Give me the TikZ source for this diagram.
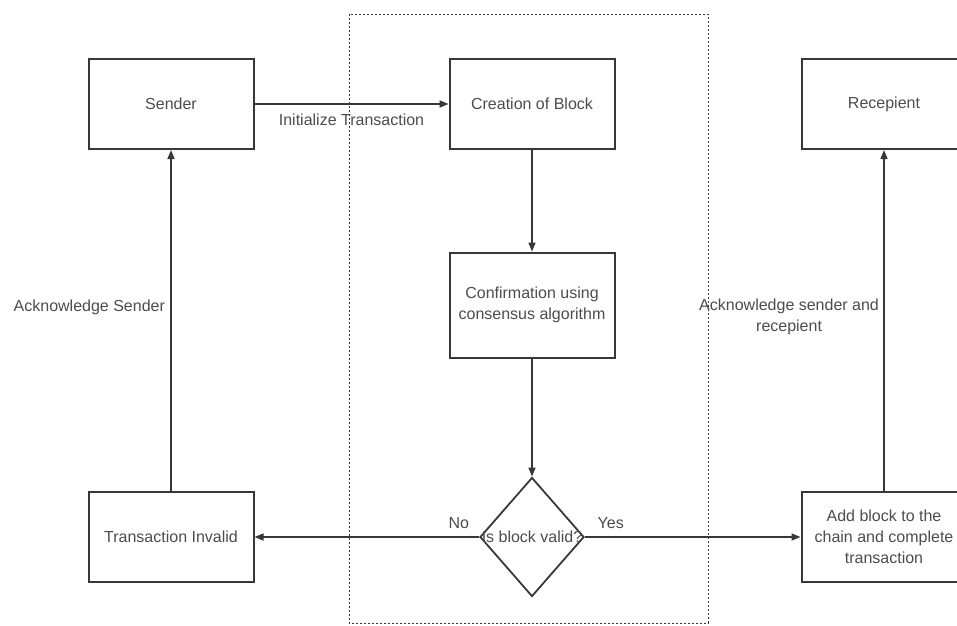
\documentclass[tikz,border=0pt]{standalone}
\usepackage{fontspec}
\setmainfont{Liberation Sans}
\usepackage{tikz}
\usetikzlibrary{arrows.meta, shapes.geometric}
\definecolor{ln}{rgb}{0.22,0.22,0.22}
\definecolor{tx}{rgb}{0.3,0.3,0.3}

\begin{document}
\begin{tikzpicture}[x=1pt, y=-1pt,
    font=\fontsize{16}{21}\selectfont,
    box/.style={draw=ln, line width=2pt, minimum width=165pt, minimum height=90pt, align=center, text=tx},
    arr/.style={draw=ln, line width=1.5pt, -{Triangle[length=9pt, width=7pt]}},
    lbl/.style={text=tx}]
    % Page frame, cut at the right edge
    \useasboundingbox (0,0) rectangle (957,625);
    \clip (0,0) rectangle (957,625);

    % Dashed frame round the middle column
    \draw[ln, line width=1pt, dash pattern=on 2pt off 2pt] (349,14) rectangle (708,623);

    % Boxes
    \node[box] (sender) at (171,104) {Sender};
    \node[box] (create) at (532,104) {Creation of Block};
    \node[box] (recip) at (884,104) {Recepient};
    \node[box, minimum height=105pt] (confirm) at (532,305) {Confirmation using\\consensus algorithm};
    \node[box] (invalid) at (171,537) {Transaction Invalid};
    \node[box] (addblock) at (884,537) {Add block to the\\chain and complete\\transaction};

    % Decision
    \node[diamond, draw=ln, line width=1.8pt, inner sep=0pt, minimum width=104pt, minimum height=119pt,
          label={[lbl]center:Is block valid?}] (valid) at (532,537) {};

    % Arrows
    \draw[arr] (sender) -- (create) node[lbl, midway, below=6pt] {Initialize Transaction};
    \draw[arr] (create) -- (confirm);
    \draw[arr] (confirm) -- (valid);
    \draw[arr] (valid) -- (invalid) node[lbl, pos=0.09, above=4pt] {No};
    \draw[arr] (valid) -- (addblock) node[lbl, pos=0.12, above=4pt] {Yes};
    \draw[arr] (invalid) -- (sender) node[lbl, pos=0.54, left=2pt] {Acknowledge Sender};
    \draw[arr] (addblock) -- (recip) node[lbl, pos=0.51, left=1pt, align=center] {Acknowledge sender and\\recepient};
\end{tikzpicture}
\end{document}
